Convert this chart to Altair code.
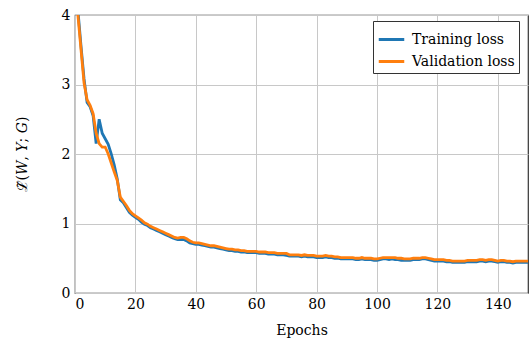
import altair as alt
import pandas as pd

epochs = list(range(0, 151))

train_loss = [
    4.6, 4.05, 3.55, 3.08, 2.74, 2.68, 2.55, 2.15, 2.5, 2.3,
    2.22, 2.14, 2.0, 1.84, 1.64, 1.34, 1.30, 1.23, 1.16, 1.12,
    1.09, 1.06, 1.02, 0.99, 0.97, 0.94, 0.92, 0.90, 0.88, 0.86,
    0.84, 0.82, 0.80, 0.78, 0.77, 0.77, 0.77, 0.75, 0.72, 0.71,
    0.70, 0.70, 0.69, 0.68, 0.67, 0.66, 0.66, 0.65, 0.64, 0.63,
    0.62,
    0.61, 0.61, 0.60, 0.60, 0.59, 0.59, 0.58, 0.58, 0.58, 0.58,
    0.57, 0.57, 0.57, 0.56, 0.56, 0.56, 0.55, 0.55, 0.55, 0.54,
    0.53, 0.53, 0.53, 0.53, 0.52, 0.53, 0.52, 0.52, 0.52, 0.51,
    0.51, 0.51, 0.52, 0.51, 0.51, 0.50, 0.50, 0.49, 0.49, 0.49,
    0.49, 0.49, 0.48, 0.48, 0.49, 0.48, 0.48, 0.48, 0.47, 0.47,
    0.48, 0.49, 0.49, 0.48, 0.49, 0.48, 0.48, 0.47, 0.47, 0.47,
    0.47, 0.48, 0.48, 0.48, 0.49, 0.49, 0.48, 0.47, 0.46, 0.46,
    0.46, 0.46, 0.45, 0.45, 0.44, 0.44, 0.44, 0.44, 0.44, 0.45,
    0.45, 0.45, 0.45, 0.46, 0.46, 0.45, 0.46, 0.46, 0.45, 0.44,
    0.45, 0.45, 0.44, 0.44, 0.43, 0.44, 0.44, 0.44, 0.44, 0.44,
]

val_loss = [
    4.5, 3.98, 3.5, 3.02, 2.78, 2.7, 2.58, 2.3, 2.15, 2.1,
    2.1, 2.0, 1.87, 1.74, 1.62, 1.38, 1.32, 1.26, 1.19, 1.14,
    1.11, 1.08, 1.05, 1.01, 0.99, 0.96, 0.94, 0.92, 0.90, 0.88,
    0.86, 0.84, 0.82, 0.80, 0.79, 0.80, 0.80, 0.78, 0.75, 0.73,
    0.72, 0.72, 0.71, 0.70, 0.69, 0.68, 0.68, 0.67, 0.66, 0.65,
    0.64,
    0.63, 0.63, 0.62, 0.62, 0.61, 0.61, 0.60, 0.60, 0.60, 0.60,
    0.59, 0.59, 0.59, 0.58, 0.58, 0.58, 0.57, 0.57, 0.57, 0.57,
    0.55, 0.55, 0.55, 0.55, 0.54, 0.55, 0.54, 0.54, 0.54, 0.53,
    0.53, 0.53, 0.54, 0.53, 0.53, 0.52, 0.52, 0.51, 0.51, 0.51,
    0.51, 0.51, 0.50, 0.50, 0.51, 0.50, 0.50, 0.50, 0.49, 0.49,
    0.50, 0.51, 0.51, 0.51, 0.51, 0.51, 0.50, 0.50, 0.49, 0.49,
    0.49, 0.50, 0.50, 0.50, 0.51, 0.51, 0.50, 0.49, 0.48, 0.48,
    0.48, 0.48, 0.47, 0.47, 0.46, 0.46, 0.46, 0.46, 0.46, 0.47,
    0.47, 0.47, 0.47, 0.48, 0.48, 0.47, 0.48, 0.48, 0.47, 0.46,
    0.47, 0.47, 0.46, 0.46, 0.45, 0.46, 0.46, 0.46, 0.46, 0.46,
]

series_names = ["Training loss", "Validation loss"]
series_colors = ["#1f77b4", "#ff7f0e"]
x_ticks = [0, 20, 40, 60, 80, 100, 120, 140]
y_ticks = [0, 1, 2, 3, 4]

rows = []
for e, v in zip(epochs, train_loss):
    rows.append({"Epoch": e, "Loss": v, "Series": series_names[0]})
for e, v in zip(epochs, val_loss):
    rows.append({"Epoch": e, "Loss": v, "Series": series_names[1]})
df = pd.DataFrame(rows)

FONT = "DejaVu Serif"

chart = alt.Chart(df).mark_line(strokeWidth=2.8, clip=True).encode(
    x=alt.X("Epoch:Q",
            scale=alt.Scale(domain=[0, 150], nice=False, zero=False),
            axis=alt.Axis(values=x_ticks, title="Epochs", titlePadding=12,
                          labelPadding=4, labelFont=FONT, titleFont=FONT)),
    y=alt.Y("Loss:Q",
            scale=alt.Scale(domain=[0, 4], nice=False),
            axis=alt.Axis(values=y_ticks, title="ℒ̃(𝑊, 𝑌; 𝐺)", titlePadding=32,
                          labelPadding=5, labelFont=FONT, titleFont=FONT)),
    color=alt.Color("Series:N",
                    scale=alt.Scale(domain=series_names, range=series_colors),
                    legend=alt.Legend(title=None, orient="none", legendX=298, legendY=6,
                                      symbolType="stroke", symbolSize=650,
                                      symbolStrokeWidth=3, strokeColor="#333",
                                      fillColor="white", padding=4, rowPadding=0,
                                      labelFontSize=14, labelFont=FONT,
                                      labelColor="black", labelOffset=6)),
    order=alt.Order("Epoch:Q"),
).properties(
    width=453, height=278,
    autosize=alt.AutoSizeParams(type="none"),
    padding={"left": 75, "top": 15, "right": 2, "bottom": 46},
).configure_view(
    stroke="#333", strokeWidth=1.2
).configure_axis(
    grid=True, gridColor="#c8c8c8", gridWidth=1,
    domain=False, ticks=False,
    labelFontSize=14, labelColor="black",
    titleFontSize=14, titleFontWeight="normal", titleColor="black",
)

chart.save("out.html", embed_options={"renderer": "svg", "actions": False})
